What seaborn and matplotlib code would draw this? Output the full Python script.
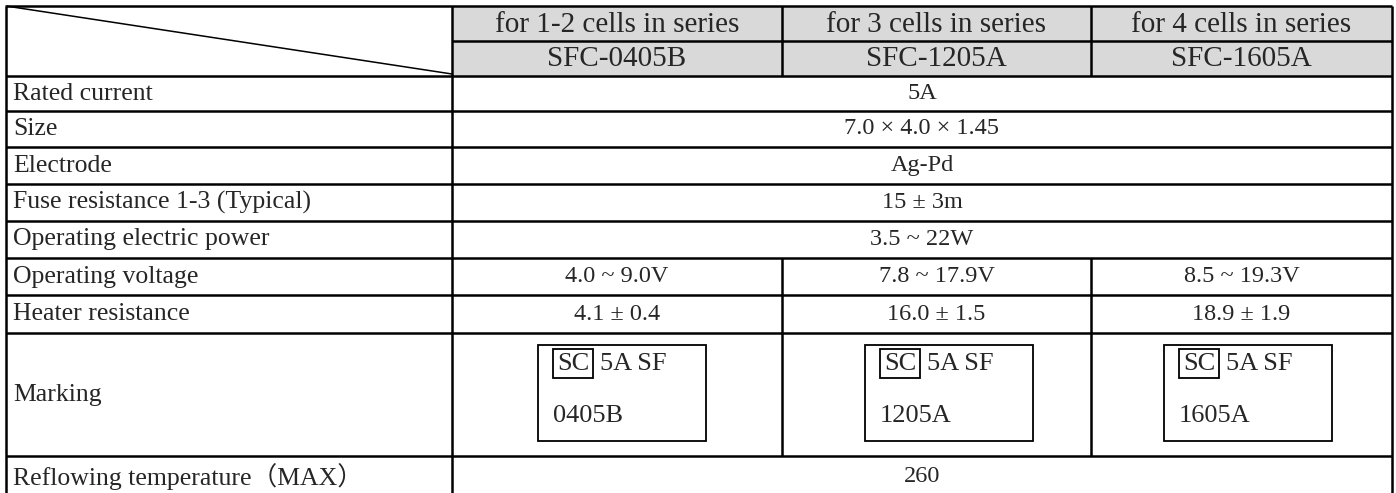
import matplotlib
matplotlib.use("Agg")
import matplotlib.pyplot as plt
import seaborn as sns
from matplotlib.patches import Rectangle

# ---- table content ----
series_labels = ["for 1-2 cells in series", "for 3 cells in series", "for 4 cells in series"]
part_numbers = ["SFC-0405B", "SFC-1205A", "SFC-1605A"]

row_labels = [
    "Rated current",
    "Size",
    "Electrode",
    "Fuse resistance 1-3 (Typical)",
    "Operating electric power",
    "Operating voltage",
    "Heater resistance",
    "Marking",
    "Reflowing temperature（MAX）",
]
# values shared by all three parts (None = one value per part)
common_values = ["5A", "7.0 × 4.0 × 1.45", "Ag-Pd", "15 ± 3m", "3.5 ~ 22W",
                 None, None, None, "260"]
operating_voltage = ["4.0 ~ 9.0V", "7.8 ~ 17.9V", "8.5 ~ 19.3V"]
heater_resistance = ["4.1 ± 0.4", "16.0 ± 1.5", "18.9 ± 1.9"]
marking_prefix = ["SC", "SC", "SC"]
marking_line1 = ["5A SF", "5A SF", "5A SF"]
marking_line2 = ["0405B", "1205A", "1605A"]

# ---- layout (pixels) ----
col_edges = [6, 452, 782, 1091, 1392]
row_edges = [6, 41, 76, 111, 147, 184, 221, 258, 295, 333, 456, 498]
mark_box_left = [538, 865, 1164]
header_gray = "#d9d9d9"
lw = 1.8

sns.set_theme(style="white")
plt.rcParams["font.family"] = ["Liberation Serif", "Noto Sans CJK JP", "DejaVu Sans"]

fig = plt.figure(figsize=(13.96, 4.93), dpi=100)
ax = fig.add_axes([0, 0, 1, 1])
ax.set_xlim(0, 1396)
ax.set_ylim(493, 0)
ax.axis("off")

left, right = col_edges[0], col_edges[-1]
top = row_edges[0]
fs_head = 21
fs_label = 18.5
fs_value = 17.5
fs_mark = 19

# grey header block
ax.add_patch(Rectangle((col_edges[1], row_edges[0]), right - col_edges[1],
                       row_edges[2] - row_edges[0], facecolor=header_gray,
                       edgecolor="none", zorder=0))

# header texts
for i in range(3):
    cx = (col_edges[i + 1] + col_edges[i + 2]) / 2
    ax.text(cx, (row_edges[0] + row_edges[1]) / 2 + 1, series_labels[i],
            ha="center", va="center", fontsize=fs_head)
    ax.text(cx, (row_edges[1] + row_edges[2]) / 2 + 1, part_numbers[i],
            ha="center", va="center", fontsize=fs_head)

# diagonal in the corner cell
ax.plot([left, col_edges[1]], [top, row_edges[2] - 2], color="black", lw=1.1)

# horizontal lines
ax.hlines(row_edges[1], col_edges[1], right, color="black", lw=lw)
for y in [row_edges[0], row_edges[2]] + row_edges[3:-1]:
    ax.hlines(y, left, right, color="black", lw=lw)

# outer verticals and first column divider
bottom = row_edges[-1]
for x in (left, col_edges[1], right):
    ax.vlines(x, top, bottom, color="black", lw=lw)

# inner verticals only where the row is split per part
split_rows = [0, 1, 7, 8, 9]  # indices into row_edges (start of row)
for r in split_rows:
    for x in col_edges[2:4]:
        ax.vlines(x, row_edges[r], row_edges[r + 1], color="black", lw=lw)

# body rows
body_top = row_edges[2:]
for k, label in enumerate(row_labels):
    y0, y1 = body_top[k], body_top[k + 1]
    cy = (y0 + y1) / 2
    ax.text(13, cy, label, ha="left", va="center", fontsize=fs_label)
    if common_values[k] is not None:
        ax.text((col_edges[1] + right) / 2, cy, common_values[k],
                ha="center", va="center", fontsize=fs_value)
    elif label == "Operating voltage":
        for i, v in enumerate(operating_voltage):
            ax.text((col_edges[i + 1] + col_edges[i + 2]) / 2, cy, v,
                    ha="center", va="center", fontsize=fs_value)
    elif label == "Heater resistance":
        for i, v in enumerate(heater_resistance):
            ax.text((col_edges[i + 1] + col_edges[i + 2]) / 2, cy, v,
                    ha="center", va="center", fontsize=fs_value)
    elif label == "Marking":
        for i in range(3):
            bx = mark_box_left[i]
            ax.add_patch(Rectangle((bx, y0 + 12), 168, 96, facecolor="none",
                                   edgecolor="black", lw=1.3))
            ax.add_patch(Rectangle((bx + 15, y0 + 16), 40, 29, facecolor="none",
                                   edgecolor="black", lw=1.3))
            ax.text(bx + 35, y0 + 31, marking_prefix[i], ha="center",
                    va="center", fontsize=fs_mark)
            ax.text(bx + 62, y0 + 31, marking_line1[i], ha="left",
                    va="center", fontsize=fs_mark)
            ax.text(bx + 15, y0 + 83, marking_line2[i], ha="left",
                    va="center", fontsize=fs_mark)

fig.savefig("out.png", dpi=100)
